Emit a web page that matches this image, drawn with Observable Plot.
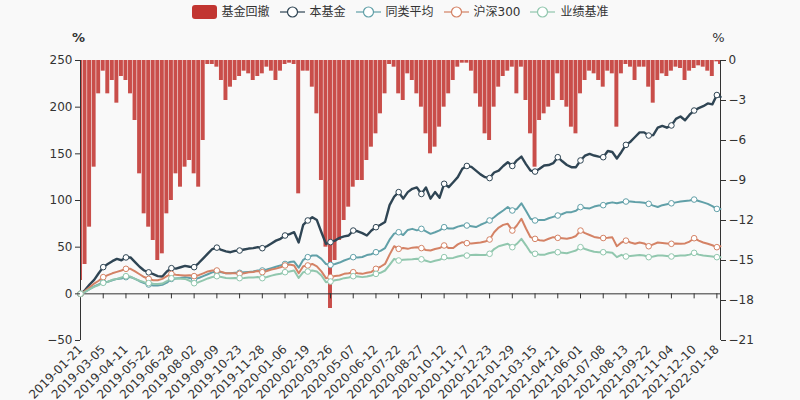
<!DOCTYPE html>
<html><head><meta charset="utf-8">
<script src="https://cdn.jsdelivr.net/npm/d3@7"></script>
<script src="https://cdn.jsdelivr.net/npm/@observablehq/plot@0.6"></script>
<style>
html,body{margin:0;padding:0;background:#f9f9f9;}
body{font-family:"DejaVu Sans","Noto Sans CJK SC",sans-serif;color:#333;width:800px;}
#legend{height:28px;display:flex;justify-content:center;align-items:flex-start;font-size:12px;color:#333;}
.item{display:flex;align-items:center;height:14px;margin-top:5px;margin-right:10px;}
.item:last-child{margin-right:0;}
.item span{margin-left:5px;line-height:14px;}
</style></head><body>
<div id="legend"></div>
<div id="chart"></div>
<script>
// category labels shown on the x axis (every 25th trading day)
const tickLabels = ["2019-01-21","2019-03-05","2019-04-11","2019-05-22","2019-06-28","2019-08-02","2019-09-09","2019-10-23","2019-11-28","2020-01-06","2020-02-19","2020-03-26","2020-05-07","2020-06-12","2020-07-22","2020-08-27","2020-10-12","2020-11-17","2020-12-23","2021-01-29","2021-03-15","2021-04-21","2021-06-01","2021-07-08","2021-08-13","2021-09-22","2021-11-04","2021-12-10","2022-01-18"];
const lastDay = 704;
// sampled trading-day positions (every 5th trading day, plus the last one)
const dayIndex = d3.range(0, 701, 5).concat([lastDay]);

const seriesNames = ["基金回撤","本基金","同类平均","沪深300","业绩基准"];

const fund = [
0,4,10,15,22,28.6,32,35,37.5,36,
39,39,34,29,25,23,21,19,18.5,24,
27.5,27,28.5,30,29,28.6,33,38,43,48,
49.5,47,45.5,44.6,46,46.4,47.5,48.5,49,50,
48.9,51,54,57,59,62.5,64,66,55,74,
78.6,82,79,66,53.6,55.4,57,60,61.5,62.5,
67.8,67,65,62.5,67.8,71.4,74,77,95,104,
109,102,109,112.5,114,107,114,102,109,103,
117.9,114.3,119.6,125,134,137,136,132,128,125,
124,130,132,137,141,137,143,147,139,132,
131,134,137.5,138,140,146.4,142,138,135.7,135.7,
142.9,148,150,148.2,147,146.4,153,152,145,152,
159.6,163,168,173,173,169.6,170,178,180,178,
180.4,187.5,190,186,192,196.4,199,201,204,203,
213,211];

const peer = [
0,2,5,8,10,12.5,13,14.5,16,16.5,
17.9,18,16,13.5,11.5,10,9,9,9.6,12,
16,16.5,17,17.9,17,16,17,19,21,23,
23.9,23,22,22,22.5,22.5,23,23.5,24,25,
25,26,27.5,29,30.5,32,34,34.6,28,36.5,
39.3,41,41,37.5,32,31,32,33.5,35.7,37.5,
39.3,39,39.5,41.5,42.5,44.6,46,49,58,64.5,
66,63,68.5,69.6,68,69.6,67,64.3,66,68,
71.4,70,70,72,73.2,73.2,72.5,71.5,74,76,
78.6,82,86,89.3,93,89.3,91,97,89,80.4,
78.6,79,79,81,82.5,83.9,85.5,87.5,87.5,89,
92.9,92,91.5,93.5,94.6,95,97,98,97,98.2,
98.9,99,98.5,98.2,97.5,96.4,94.5,93,95,96,
97,98,98.9,99.5,100,101,99.5,98,96.4,94,
91,91];

const hs300 = [
0,3,7,11,14,17.9,20,22,23.5,25,
26.8,26.8,24,21,18,16,14.5,14.5,16,19,
21.4,20.5,20,19.6,20,19,20,22,24,25,
25,23.5,22,22,22,21.5,22,23,23.5,24.5,
23.2,24.5,26,27,28.5,30.4,31.5,30.4,22,29.6,
30.4,32,29.5,24,16.8,17.9,19,19.6,21.4,22,
23.2,22,21.4,22.5,23.5,26.8,29,32,42,51,
48.2,49,48.2,49.5,50,49,47,46.4,48,49,
51.8,49,49,53,55.4,54.3,54,54.5,55,56,
58.2,66,71,73.9,75,67.8,73.2,80.4,70,60.7,
58.9,57.5,57,59,60.7,60,59.5,59,60,62,
67.8,65,63,61,60,59.8,60,60.5,51,55,
57,55,53.6,55,54,51,53,55,54.5,54,
53.6,54,53.6,54,56,59.6,57,55,53.6,52,
50,51];

const bench = [
0,2,5,7.5,9.5,11.8,13,15,16,17.5,
18.9,18.5,16,14,12.5,11.5,10.7,10.5,11,13.5,
16.7,16.5,16.2,16,14,11.4,12.5,14.5,16.5,18,
18.9,18,17,16.8,17,16.8,17,17.5,17.5,18,
16.8,18,19.5,20.7,21.5,23.2,24,25,17,23.2,
23.9,25,24,19.6,12.5,13.2,14.5,15.4,16.8,17.5,
18.9,18.5,17.9,18.5,19.6,21.4,22.5,25,31,37.5,
35.7,36.5,36.8,37,37.5,37,35.5,34,35.5,36.5,
39.3,38,38.5,40,41,41,41.5,41.8,41.5,41.5,
42.9,48,51,52.3,53.6,50,53.6,58.9,52,44.6,
42.9,42,41.8,43.5,44.6,44.6,44,43.5,45,46.4,
50,48,46.4,45,44.6,44.6,44.6,44,39.3,41.8,
40,40.5,41,41.5,41,39.3,40,41,41,40.5,
40,40.5,41,41,42,43.9,42,41,40.5,40,
39.3,39.3];

const drawdown = [
-16.5,-15.3,-12.5,-8,-2.5,-0.8,-2.5,-1.5,-3.2,-1.2,
-1.5,-2.5,-4.5,-8.5,-11.5,-12.5,-13.5,-15,-14.5,-11.5,
-10.5,-8.5,-9.5,-8,-7.5,-8.5,-9.5,-6,-0.3,-0.3,
-0.5,-1.5,-3,-2,-1.5,-1.2,-0.8,-1,-1.5,-1.2,
-1,-0.5,-0.8,-1.5,-0.8,-0.3,-0.2,-0.3,-10,-0.8,
-0.8,-2,-4,-9,-14,-18.6,-15,-13.5,-12,-11,
-9.5,-9,-9,-7.5,-6.5,-5.5,-4,-2.5,-0.3,-0.5,
-2.5,-3,-1,-1.5,-2.5,-3.5,-5.5,-7,-6.5,-5,
-3.5,-2.5,-1.5,-0.5,-0.2,-0.2,-0.8,-2.5,-3.5,-5.5,
-6,-3.5,-2,-1.2,-0.8,-0.5,-2.5,-0.5,-3,-5.5,
-8,-4.5,-4,-3.5,-3,-1,-3,-3.5,-5,-5.5,
-2.5,-1.5,-0.8,-1,-1.5,-2,-0.8,-1,-5,-1,
-0.3,-0.5,-1.5,-0.5,-0.5,-2,-3.2,-1.5,-1,-1.2,
-0.8,-0.5,-0.6,-1.5,-0.8,-0.6,-0.4,-0.5,-0.8,-1.2,
-0.1,-0.3];

const leftTicks = [-50, 0, 50, 100, 150, 200, 250];
const rightTicks = [0, -3, -6, -9, -12, -15, -18, -21];

const colors = {"基金回撤":"#c23531","本基金":"#2f4554","同类平均":"#61a0a8","沪深300":"#d48265","业绩基准":"#91c7ae"};

// map drawdown (right axis, 0..-21) onto left scale (250..-50)
const L0 = 250, Lmin = -50, R0 = 0, Rmin = -21;
const toLeft = d => L0 + (d - R0) * (L0 - Lmin) / (R0 - Rmin);
const toRight = v => R0 + (v - L0) * (R0 - Rmin) / (L0 - Lmin);

const rows = dayIndex.map((i, k) => ({i, dd: drawdown[k]}));
const lineSets = [
  {name:"本基金", vals: fund, w: 2.4},
  {name:"同类平均", vals: peer, w: 2},
  {name:"沪深300", vals: hs300, w: 2},
  {name:"业绩基准", vals: bench, w: 2}
];
const tickIdx = tickLabels.map((_, k) => k * 25);
const fmt = d3.format("d");

const marks = [
  Plot.rectY(rows, {x1: r => r.i - 2.5, x2: r => r.i + 2.5, y1: () => toLeft(0), y2: r => toLeft(r.dd), fill: colors["基金回撤"], fillOpacity: 0.88, insetLeft: 0.3, insetRight: 0.3, clip: true}),
  Plot.ruleY([0], {stroke: "#333", strokeWidth: 1}),
  Plot.ruleX(tickIdx, {x: d => d, y1: () => 0, y2: () => -5.4, stroke: "#333"}),
  Plot.ruleX([0, lastDay], {stroke: "#333", strokeWidth: 1})
];
for (const s of lineSets) {
  const data = dayIndex.map((i, k) => ({i, v: s.vals[k]}));
  marks.push(Plot.line(data, {x: "i", y: "v", stroke: colors[s.name], strokeWidth: s.w}));
}
for (const s of lineSets) {
  const data = dayIndex.map((i, k) => ({i, v: s.vals[k]})).filter(d => d.i % 25 === 0);
  marks.push(Plot.dot(data, {x: "i", y: "v", r: 2.8, fill: "#fff", stroke: colors[s.name], strokeWidth: 1}));
}
marks.push(
  Plot.axisY({anchor: "left", ticks: leftTicks, tickSize: 5, tickPadding: 3, label: null, tickFormat: fmt}),
  Plot.axisY({anchor: "right", ticks: rightTicks.map(toLeft), tickSize: 5, tickPadding: 3, label: null, tickFormat: v => fmt(Math.round(toRight(v)))}),
  Plot.axisX({anchor: "bottom", ticks: tickIdx, tickSize: 0, tickPadding: 7, tickRotate: -45, label: null, tickFormat: d => tickLabels[Math.round(d / 25)]}),
  Plot.text(["%"], {x: () => 0, y: () => L0, dx: -2, dy: -23, fontSize: 13, fontWeight: "bold", fill: "#333"}),
  Plot.text(["%"], {x: () => lastDay, y: () => L0, dx: -2, dy: -23, fontSize: 13, fill: "#333"})
);

const chart = Plot.plot({
  width: 800, height: 372,
  marginTop: 32, marginBottom: 60, marginLeft: 80, marginRight: 80,
  style: {background: "transparent", fontFamily: '"DejaVu Sans","Noto Sans CJK SC",sans-serif', fontSize: "12px", color: "#333", overflow: "visible"},
  x: {type: "linear", domain: [0, lastDay], axis: null},
  y: {domain: [Lmin, L0], axis: null},
  marks
});
document.getElementById("chart").appendChild(chart);

// legend
const legend = document.getElementById("legend");
for (const name of seriesNames) {
  const item = document.createElement("div");
  item.className = "item";
  const c = colors[name];
  let icon;
  if (name === "基金回撤") {
    icon = `<svg width="25" height="14"><rect x="0" y="0" width="25" height="14" rx="3" fill="${c}"/></svg>`;
  } else {
    icon = `<svg width="25" height="14"><line x1="0" y1="7" x2="25" y2="7" stroke="${c}" stroke-width="2" opacity="0.6"/><circle cx="12.5" cy="7" r="5" fill="#fff" stroke="${c}" stroke-width="1.2"/></svg>`;
  }
  item.innerHTML = icon + `<span>${name}</span>`;
  legend.appendChild(item);
}
</script>
</body></html>
